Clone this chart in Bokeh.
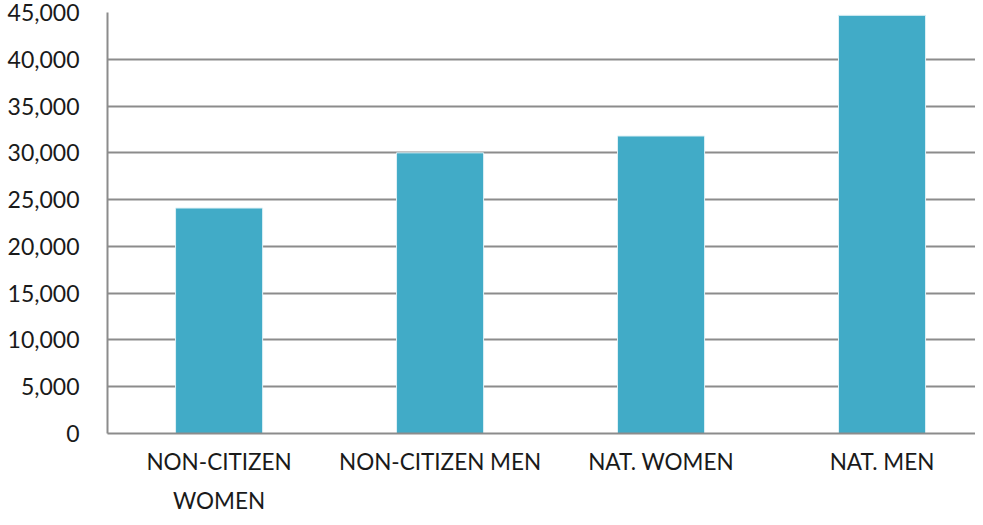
from bokeh.plotting import figure
from bokeh.models import Range1d, FixedTicker, NumeralTickFormatter, ColumnDataSource
from bokeh.embed import file_html
from bokeh.resources import INLINE

categories = ["NON-CITIZEN\nWOMEN", "NON-CITIZEN MEN", "NAT. WOMEN", "NAT. MEN"]
values = [24100, 30000, 31800, 44700]
y_ticks = [0, 5000, 10000, 15000, 20000, 25000, 30000, 35000, 40000, 45000]

xs = list(range(len(categories)))
src = ColumnDataSource(dict(x=xs, top=values))

p = figure(width=975, height=517, output_backend="svg", toolbar_location=None,
           x_range=Range1d(-0.505, 3.423), y_range=Range1d(0, 45000),
           min_border_left=107, min_border_right=0, min_border_top=12, min_border_bottom=83)
p.outline_line_color = None
p.background_fill_color = "white"

p.vbar(x="x", top="top", width=0.394, source=src, fill_color="#41ABC7",
       line_color="#dff1f6", line_width=1)

font = "Lato"
p.yaxis.ticker = FixedTicker(ticks=y_ticks)
p.yaxis.formatter = NumeralTickFormatter(format="0,0")
p.yaxis.major_tick_line_color = None
p.yaxis.minor_tick_line_color = None
p.yaxis.axis_line_color = "#8c8c8c"
p.yaxis.axis_line_width = 2
p.yaxis.major_label_standoff = 22
p.yaxis.major_label_text_font = font
p.yaxis.major_label_text_font_size = "23px"
p.yaxis.major_label_text_color = "#1a1a1a"

p.xaxis.ticker = FixedTicker(ticks=xs)
p.xaxis.major_label_overrides = {i: c for i, c in zip(xs, categories)}
p.xaxis.major_tick_line_color = None
p.xaxis.minor_tick_line_color = None
p.xaxis.axis_line_color = "#8c8c8c"
p.xaxis.axis_line_width = 2
p.xaxis.major_label_standoff = 8
p.xaxis.major_label_text_font = font
p.xaxis.major_label_text_font_size = "22.5px"
p.xaxis.major_label_text_color = "#1a1a1a"
p.xaxis.major_label_text_line_height = 1.47

p.xgrid.grid_line_color = None
p.ygrid.ticker = FixedTicker(ticks=y_ticks)
p.ygrid.grid_line_color = "#8c8c8c"
p.ygrid.grid_line_width = 2

open("out.html", "w").write(file_html(p, INLINE))
